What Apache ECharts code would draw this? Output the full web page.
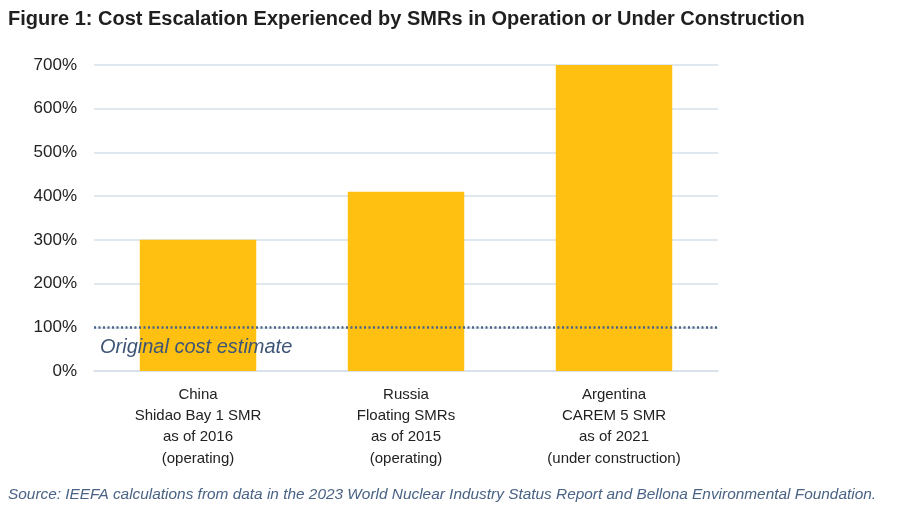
<!DOCTYPE html>
<html>
<head>
<meta charset="utf-8">
<script src="https://cdn.jsdelivr.net/npm/echarts@6/dist/echarts.min.js"></script>
<style>
html,body{margin:0;padding:0;background:#fff;}
#c{width:903px;height:508px;}
</style>
</head>
<body>
<div id="c"></div>
<script>
const categories = [
  "China\nShidao Bay 1 SMR\nas of 2016\n(operating)",
  "Russia\nFloating SMRs\nas of 2015\n(operating)",
  "Argentina\nCAREM 5 SMR\nas of 2021\n(under construction)"
];
const values = [300, 410, 700];
const baselineValue = 100;
const baselineLabel = "Original cost estimate";
const yTicks = [0, 100, 200, 300, 400, 500, 600, 700];

const chart = echarts.init(document.getElementById('c'));
const font = "'Liberation Sans', Arial, Helvetica, sans-serif";
chart.setOption({
  animation: false,
  textStyle: { fontFamily: font },
  title: [{
    text: "Figure 1: Cost Escalation Experienced by SMRs in Operation or Under Construction",
    left: 3, top: 4,
    textStyle: { fontSize: 20, fontWeight: 'bold', color: '#1f1f1f', fontFamily: font }
  }, {
    text: "Source: IEEFA calculations from data in the 2023 World Nuclear Industry Status Report and Bellona Environmental Foundation.",
    left: 3, top: 482,
    textStyle: { fontSize: 15.4, fontStyle: 'italic', fontWeight: 'normal', color: '#4a6385', fontFamily: font }
  }],
  grid: { left: 94, right: 185, top: 65, bottom: 137 },
  xAxis: {
    type: 'category',
    data: categories,
    axisLine: { show: true, lineStyle: { color: '#d6e0ea', width: 1.5 } },
    axisTick: { show: false },
    axisLabel: { color: '#222', fontSize: 15, lineHeight: 21.3, margin: 13, interval: 0, fontFamily: font }
  },
  yAxis: {
    type: 'value',
    min: yTicks[0], max: yTicks[yTicks.length - 1], interval: 100,
    axisLine: { show: false },
    axisTick: { show: false },
    splitLine: { lineStyle: { color: '#d6e0ea', width: 1.5 } },
    axisLabel: { color: '#222', fontSize: 17, margin: 17, formatter: v => v + '%', fontFamily: font }
  },
  series: [{
    type: 'bar',
    data: values,
    barWidth: '56%',
    itemStyle: { color: '#FFC011' },
    markLine: {
      silent: true,
      symbol: 'none',
      data: [{ yAxis: baselineValue }],
      lineStyle: { type: [2, 2.5], color: '#4a6385', width: 2.5 },
      label: {
        show: true,
        position: 'insideStartBottom',
        formatter: baselineLabel,
        fontStyle: 'italic',
        fontSize: 20,
        color: '#3e5575',
        distance: [6, 10],
        fontFamily: font
      }
    }
  }]
});
</script>
</body>
</html>
